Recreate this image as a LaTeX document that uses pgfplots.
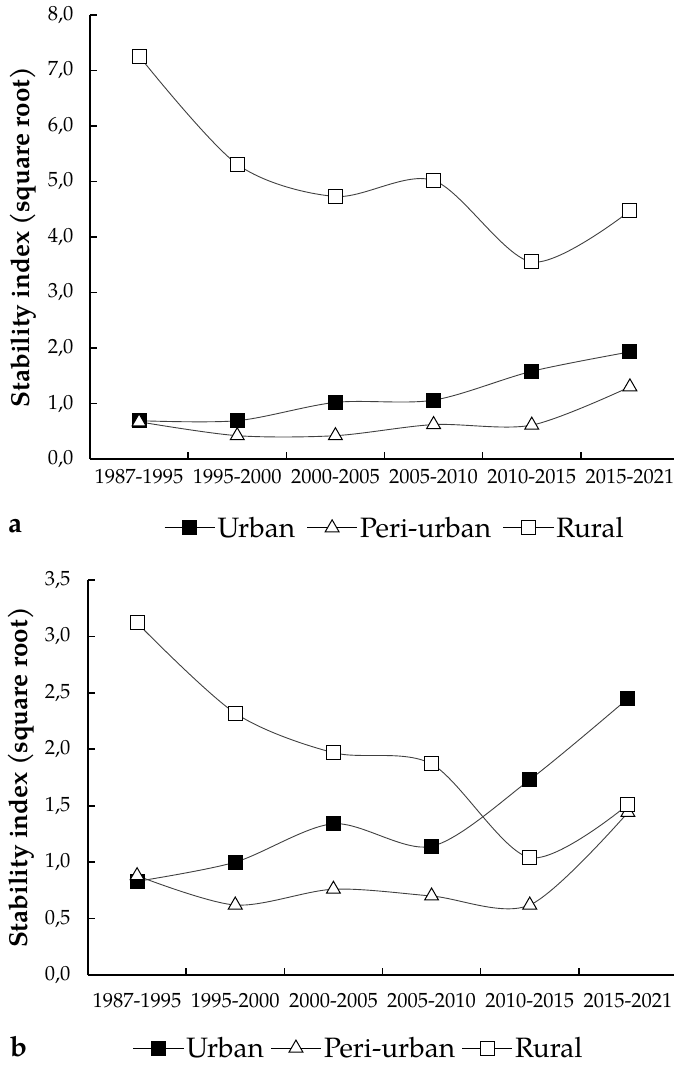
\documentclass[border=0pt]{standalone}
\usepackage{fontspec}
\setmainfont{TeX Gyre Pagella}
\usepackage{pgfplots}
\pgfplotsset{compat=1.18}

\pgfplotstableread{
x urban peri rural
0 0.69 0.67 7.26
1 0.69 0.42 5.31
2 1.02 0.42 4.73
3 1.06 0.62 5.02
4 1.58 0.61 3.55
5 1.93 1.30 4.47
}\dataA
\pgfplotstableread{
x urban peri rural
0 0.83 0.88 3.12
1 1.00 0.62 2.32
2 1.34 0.76 1.97
3 1.14 0.70 1.87
4 1.73 0.62 1.04
5 2.45 1.44 1.51
}\dataB

\pgfplotsset{
  mystyle/.style={
    scale only axis, width=589pt,
    axis x line*=bottom, axis y line*=left,
    axis line style={-, line width=1.6pt, black},
    xmin=-0.5, xmax=5.5, ymin=0,
    xtick={0,1,2,3,4,5},
    xticklabels={1987-1995,1995-2000,2000-2005,2005-2010,2010-2015,2015-2021},
    minor xtick={0.5,1.5,2.5,3.5,4.5},
    major x tick style={draw=none},
    minor x tick style={line width=1.6pt, black},
    ytick style={line width=1.6pt, black},
    major tick length=7pt, minor tick length=7pt,
    tick align=inside,
    tick label style={font=\fontsize{20.5}{20.5}\selectfont, black},
    /pgf/number format/assume math mode=true,
    yticklabel={\pgfmathprintnumber[fixed, fixed zerofill, precision=1, use comma]{\tick}},
    ylabel={Stability index (square root)},
    ylabel style={font=\bfseries\fontsize{26}{26}\selectfont, at={(axis description cs:-0.114,0.5)}, anchor=center},
    legend columns=3,
    legend cell align=left,
    legend image code/.code={\draw[mark repeat=2,mark phase=2, line width=1.1pt, black] plot coordinates {(0pt,0pt) (25pt,0pt) (50pt,0pt)};},
    every axis plot/.append style={smooth, line width=0.9pt, color=black!75},
  },
  urb/.style={mark=square*, mark size=7pt, mark options={fill=black, draw=black, line width=1pt}},
  per/.style={mark=triangle*, mark size=8pt, mark options={fill=white, draw=black, line width=1pt}},
  rur/.style={mark=square*, mark size=7pt, mark options={fill=white, draw=black, line width=1pt}},
}

\begin{document}
\begin{tikzpicture}
\useasboundingbox (0,0) rectangle (674pt,1068pt);
\begin{axis}[mystyle, at={(90pt,609pt)}, anchor=south west, height=444pt,
  ymax=8, ytick={0,1,...,8},
  xticklabel style={yshift=-7pt},
  yticklabel style={xshift=-13pt},
  legend style={draw=none, fill=none, at={(axis description cs:0.518,-0.155)}, anchor=center,
    font=\fontsize{28}{28}\selectfont, nodes={inner sep=2.5pt},
    /tikz/every even column/.append style={column sep=9pt}},
]
\addplot[urb] table[x=x,y=urban] {\dataA};
\addlegendentry{Urban}
\addplot[per] table[x=x,y=peri] {\dataA};
\addlegendentry{Peri-urban}
\addplot[rur] table[x=x,y=rural] {\dataA};
\addlegendentry{Rural}
\end{axis}

\begin{axis}[mystyle, at={(88pt,93pt)}, anchor=south west, height=395pt,
  ymax=3.5, ytick={0,0.5,...,3.5},
  xticklabel style={yshift=-15pt},
  yticklabel style={xshift=-14pt},
  legend style={draw=none, fill=none, at={(axis description cs:0.46,-0.185)}, anchor=center,
    font=\fontsize{28}{28}\selectfont, nodes={inner sep=2.5pt},
    /tikz/every even column/.append style={column sep=4pt}},
]
\addplot[urb] table[x=x,y=urban] {\dataB};
\addlegendentry{Urban}
\addplot[per] table[x=x,y=peri] {\dataB};
\addlegendentry{Peri-urban}
\addplot[rur] table[x=x,y=rural] {\dataB};
\addlegendentry{Rural}
\end{axis}

\node[anchor=base west, inner sep=0pt, font=\bfseries\fontsize{28}{28}\selectfont] at (8pt,535pt) {a};
\node[anchor=base west, inner sep=0pt, font=\bfseries\fontsize{28}{28}\selectfont] at (10pt,12pt) {b};
\end{tikzpicture}
\end{document}
